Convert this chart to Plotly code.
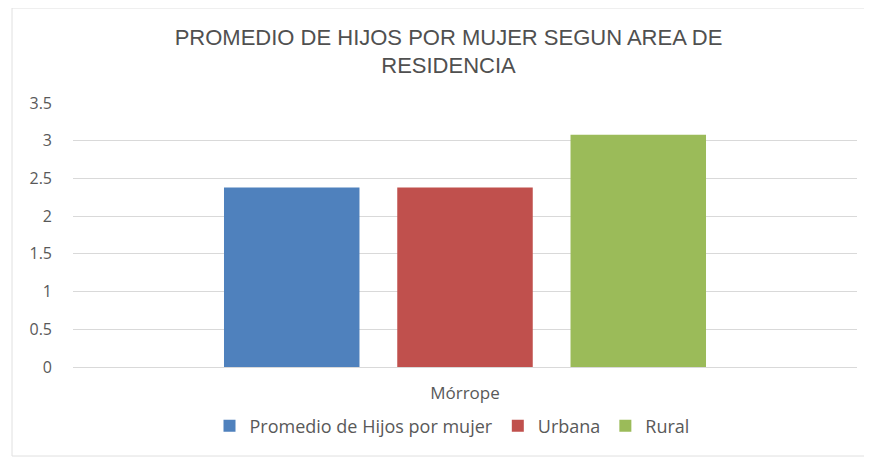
import plotly.graph_objects as go

categories = ["Mórrope"]
series_names = ["Promedio de Hijos por mujer", "Urbana", "Rural"]
series_values = [[2.38], [2.38], [3.08]]
colors = ["#4F81BD", "#C0504D", "#9BBB59"]
y_ticks = [0, 0.5, 1, 1.5, 2, 2.5, 3, 3.5]
y_tick_labels = ["0", "0.5", "1", "1.5", "2", "2.5", "3", "3.5"]

fig = go.Figure()
for name, vals, col in zip(series_names, series_values, colors):
    fig.add_trace(go.Bar(x=categories, y=vals, name=name, marker_color=col,
                         marker_line_width=0))

OFF = 8  # page body margin
W, H = 864, 451
ml, mr, mt, mb = 65, 15, 95, 92
pw = W - ml - mr
ph = H - mt - mb

def px_x(screen):
    return (screen - OFF - ml) / pw

def px_y(screen):
    return (H - mb - (screen - OFF)) / ph

fig.update_layout(
    width=W, height=H,
    margin=dict(l=ml, r=mr, t=mt, b=mb),
    paper_bgcolor="white", plot_bgcolor="white",
    barmode="group", bargap=0.337, bargroupgap=0.218,
    font=dict(family="Open Sans, Liberation Sans, sans-serif", color="#595959", size=15),
    title=dict(text="PROMEDIO DE HIJOS POR MUJER SEGUN AREA DE<br>RESIDENCIA",
               x=(448.5 - OFF) / W, xanchor="center",
               y=1 - (44.5 - OFF) / H, yanchor="middle",
               font=dict(family="Liberation Sans, Arial, sans-serif",
                         size=22, color="#505050")),
    xaxis=dict(showgrid=False, showline=True, linecolor="#d9d9d9", linewidth=1,
               ticks="", tickfont=dict(size=17, color="#595959"), ticklabelstandoff=11),
    yaxis=dict(range=[0, 3.5], tickvals=y_ticks, ticktext=y_tick_labels,
               showgrid=True, gridcolor="#d9d9d9", gridwidth=1,
               zeroline=False, showline=False, ticks="",
               tickfont=dict(size=16, color="#595959"), ticklabelstandoff=20),
    legend=dict(orientation="h", x=px_x(452), xanchor="center", y=px_y(426), yanchor="middle",
                font=dict(size=18, color="#595959"), itemwidth=30,
                traceorder="normal"),
    shapes=[dict(type="rect", xref="paper", yref="paper",
                 x0=px_x(12), x1=px_x(868), y0=px_y(456), y1=px_y(8),
                 line=dict(color="#e0e0e0", width=1), fillcolor="rgba(0,0,0,0)", layer="below")],
)

fig.write_html("out.html")
